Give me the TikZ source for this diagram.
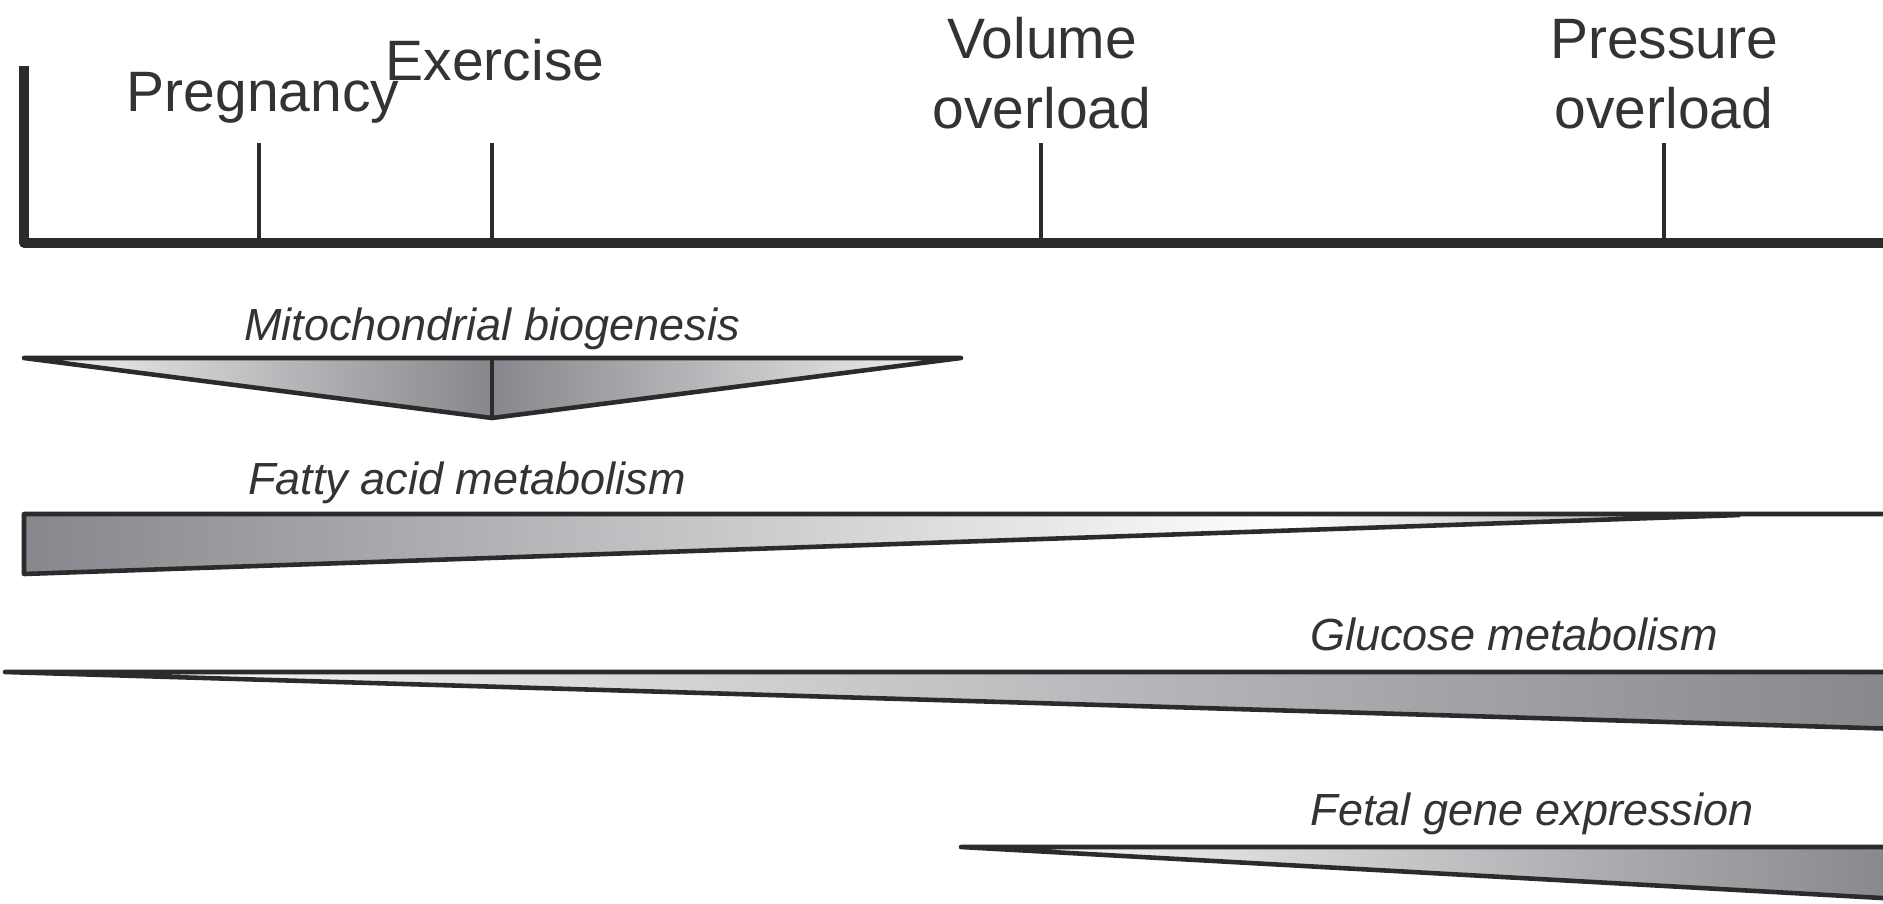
\documentclass[tikz,border=0pt]{standalone}
\usepackage{fontspec}
\setmainfont{Liberation Sans}
\definecolor{cline}{HTML}{2B2B2B}
\definecolor{ctext}{HTML}{333333}
\definecolor{cshade}{HTML}{86868C}
\definecolor{cpale}{HTML}{F6F6F6}
\pgfdeclarehorizontalshading{fattyshade}{100bp}{color(0bp)=(cshade); color(25bp)=(cshade); color(62bp)=(white); color(75bp)=(gray!75); color(100bp)=(gray!75)}

\begin{document}
\begin{tikzpicture}[x=0.01cm, y=-0.01cm,
  lbl/.style={font=\fontsize{16.2}{19.9}\selectfont, text=ctext, anchor=base, align=center, inner sep=0pt},
  proc/.style={font=\fontsize{12.8}{15}\selectfont\itshape, text=ctext, anchor=base, inner sep=0pt},
  wedge/.style={draw=cline, line width=1.3pt, line join=round}]
  \useasboundingbox (0,0) rectangle (1883,903);
  \clip (0,0) rectangle (1883,903);

  % Axis
  \draw[cline, line width=2.6pt, line join=round] (24,66) -- (24,243) -- (1900,243);
  \foreach \x/\n in {259/preg, 492/exer, 1041/vol, 1664/pres}{
    \draw[cline, line width=1.4pt] (\x,143) coordinate (\n) -- (\x,243);
  }
  \node[lbl] (pregnancy) at (263,111) {Pregnancy};
  \node[lbl] (exercise) at (495,80) {Exercise};
  \node[lbl] (volume) at (1042,128) {Volume\\overload};
  \node[lbl] (pressure) at (1664,128) {Pressure\\overload};

  % Mitochondrial biogenesis
  \node[proc] (mito) at (492,340) {Mitochondrial biogenesis};
  \shade[left color=cpale, right color=cshade] (24,358) -- (492,358) -- (492,418) -- cycle;
  \shade[left color=cshade, right color=cpale] (492,358) -- (961,358) -- (492,418) -- cycle;
  \draw[wedge] (24,358) -- (961,358) -- (492,418) -- cycle;
  \draw[cline, line width=1pt] (492,358) -- (492,418);

  % Fatty acid metabolism
  \node[proc] (fatty) at (467,494) {Fatty acid metabolism};
  \shade[shading=fattyshade] (24,514) -- (1740,514) -- (24,574) -- cycle;
  \draw[wedge] (1900,514) -- (24,514) -- (24,574) -- (1740,515);

  % Glucose metabolism
  \node[proc] (glucose) at (1514,650) {Glucose metabolism};
  \shade[left color=white, right color=cshade] (5,672) -- (1900,672) -- (1900,729) -- cycle;
  \draw[wedge] (1900,672) -- (5,672) -- (1900,729);

  % Fetal gene expression
  \node[proc] (fetal) at (1532,825) {Fetal gene expression};
  \shade[left color=white, right color=cshade] (961,847) -- (1900,847) -- (1900,899) -- cycle;
  \draw[wedge] (1900,847) -- (961,847) -- (1900,899);
\end{tikzpicture}
\end{document}
